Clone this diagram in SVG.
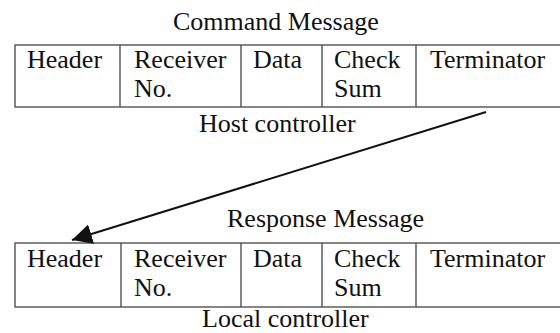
<svg xmlns="http://www.w3.org/2000/svg" width="560" height="333" viewBox="0 0 560 333">
<style>
.t{font-family:"Liberation Serif","Times New Roman",serif;font-size:26px;fill:#111;}
.b{fill:none;stroke:#444;stroke-width:1.3;}
.conn{stroke:#111;stroke-width:2;fill:none;}
</style>
<defs>
<marker id="ah" markerUnits="userSpaceOnUse" markerWidth="22" markerHeight="22" refX="20" refY="10" orient="auto">
<path d="M0,0 L20,10 L0,20 z" fill="#111"/>
</marker>
</defs>
<rect width="560" height="333" fill="#fff"/>
<g id="command">
<text class="t" x="173" y="30">Command Message</text>
<rect class="b" x="15" y="45" width="560" height="62"/>
<line class="b" x1="120" y1="45" x2="120" y2="107"/>
<line class="b" x1="241" y1="45" x2="241" y2="107"/>
<line class="b" x1="322" y1="45" x2="322" y2="107"/>
<line class="b" x1="416" y1="45" x2="416" y2="107"/>
<text class="t" x="27" y="68">Header</text>
<text class="t" x="134" y="68">Receiver</text>
<text class="t" x="134" y="97">No.</text>
<text class="t" x="253" y="68">Data</text>
<text class="t" x="334" y="68">Check</text>
<text class="t" x="334" y="97">Sum</text>
<text class="t" x="430" y="68">Terminator</text>
<text class="t" x="199" y="132">Host controller</text>
</g>
<g id="response">
<text class="t" x="227" y="227">Response Message</text>
<rect class="b" x="15" y="243" width="560" height="64"/>
<line class="b" x1="121" y1="243" x2="121" y2="307"/>
<line class="b" x1="241" y1="243" x2="241" y2="307"/>
<line class="b" x1="322" y1="243" x2="322" y2="307"/>
<line class="b" x1="416" y1="243" x2="416" y2="307"/>
<text class="t" x="27" y="267">Header</text>
<text class="t" x="134" y="267">Receiver</text>
<text class="t" x="134" y="296">No.</text>
<text class="t" x="253" y="267">Data</text>
<text class="t" x="334" y="267">Check</text>
<text class="t" x="334" y="296">Sum</text>
<text class="t" x="430" y="267">Terminator</text>
<text class="t" x="202" y="327">Local controller</text>
</g>
<g id="connectors">
<line class="conn" x1="486" y1="112" x2="72" y2="240" marker-end="url(#ah)"/>
</g>
</svg>
